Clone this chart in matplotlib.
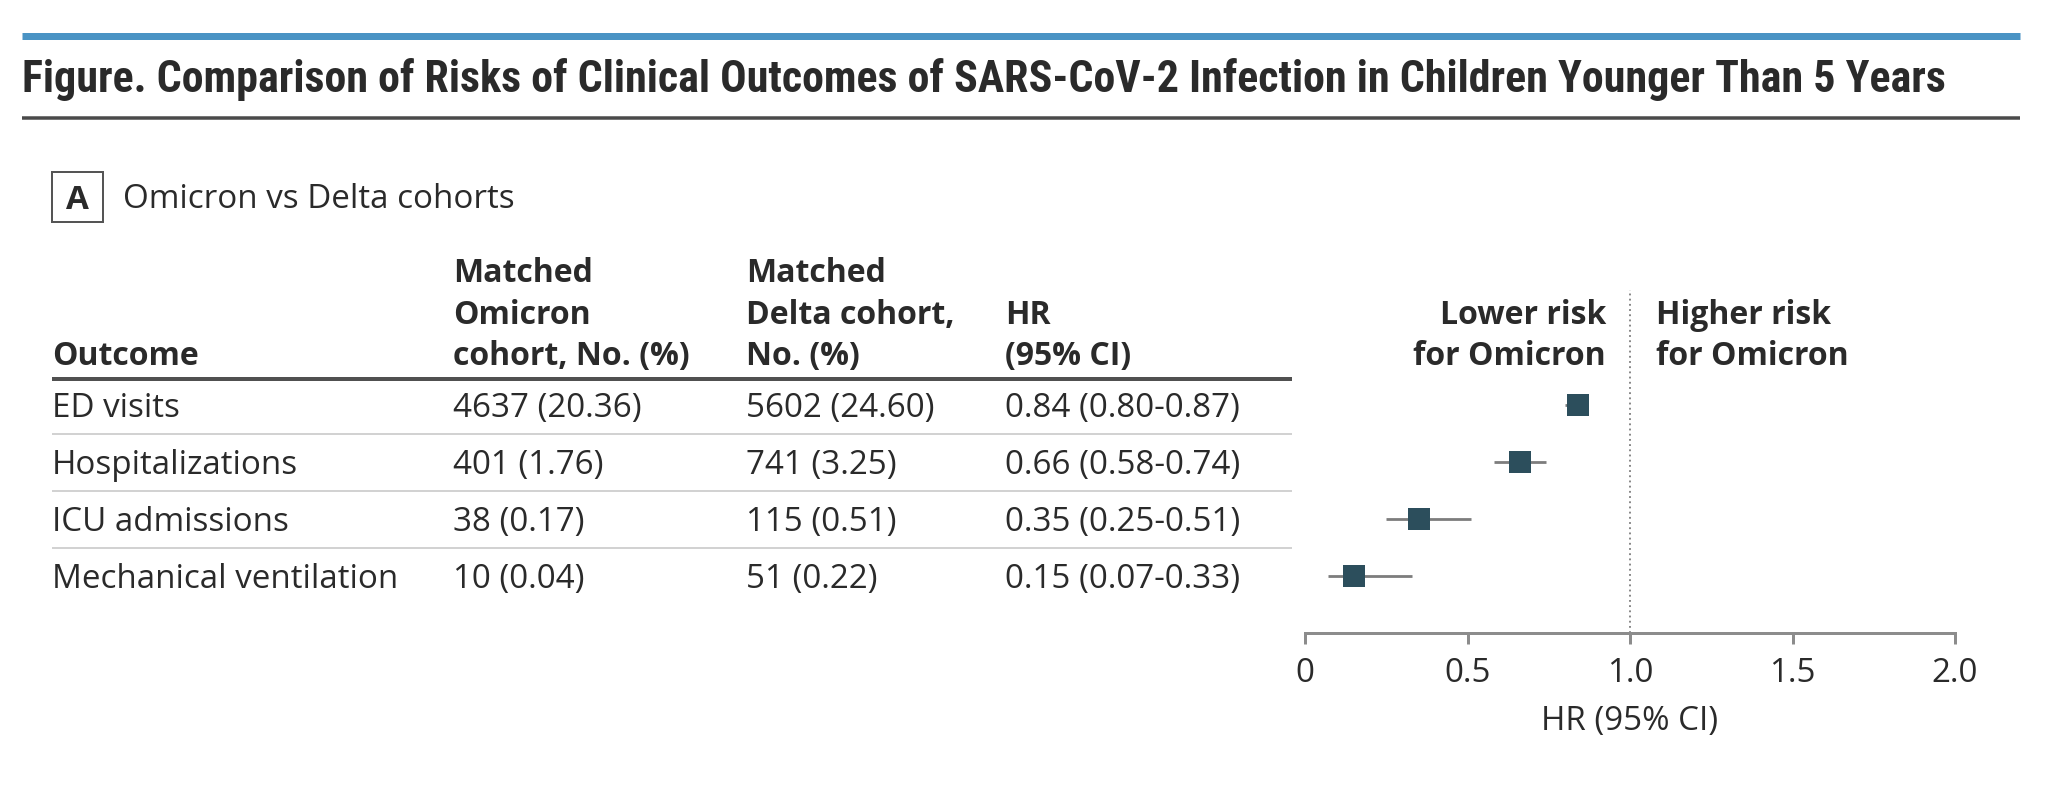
import matplotlib
matplotlib.use("Agg")
import matplotlib.pyplot as plt
from matplotlib.font_manager import FontProperties, findfont
from matplotlib.patches import Rectangle

# ---------------- data ----------------
outcomes = ["ED visits", "Hospitalizations", "ICU admissions", "Mechanical ventilation"]
omicron_n = [4637, 401, 38, 10]
omicron_pct = [20.36, 1.76, 0.17, 0.04]
delta_n = [5602, 741, 115, 51]
delta_pct = [24.60, 3.25, 0.51, 0.22]
hr = [0.84, 0.66, 0.35, 0.15]
hr_lo = [0.80, 0.58, 0.25, 0.07]
hr_hi = [0.87, 0.74, 0.51, 0.33]
xticks = [0, 0.5, 1.0, 1.5, 2.0]
xtick_labels = ["0", "0.5", "1.0", "1.5", "2.0"]

title = ("Figure. Comparison of Risks of Clinical Outcomes of SARS-CoV-2 "
         "Infection in Children Younger Than 5 Years")
panel_label = "A"
panel_title = "Omicron vs Delta cohorts"
header_outcome = ["", "", "Outcome"]
header_omicron = ["Matched", "Omicron", "cohort, No. (%)"]
header_delta = ["Matched", "Delta cohort,", "No. (%)"]
header_hr = ["", "HR", "(95% CI)"]
lower_text = ["Lower risk", "for Omicron"]
higher_text = ["Higher risk", "for Omicron"]
xlabel = "HR (95% CI)"

# ---------------- fonts ----------------
def available(fam, stretch="normal", must_contain=None):
    try:
        path = findfont(FontProperties(family=fam, stretch=stretch, weight="bold"),
                        fallback_to_default=False)
        if must_contain and must_contain.lower() not in path.lower():
            return False
        return True
    except Exception:
        return False

body_font = next((f for f in ["Open Sans", "Noto Sans", "DejaVu Sans"] if available(f)), "DejaVu Sans")

title_font, title_stretch = "Lato", "normal"
for fam, st, key in [("Liberation Sans Narrow", "normal", None),
                     ("Roboto Condensed", "normal", None),
                     ("Open Sans Condensed", "normal", None),
                     ("Roboto", "condensed", "condensed"),
                     ("Lato", "normal", None)]:
    if available(fam, st, key):
        title_font, title_stretch = fam, st
        break

W, H = 2048, 791
DPI = 100
fig = plt.figure(figsize=(W / DPI, H / DPI), dpi=DPI)
fig.patch.set_facecolor("white")
renderer = fig.canvas.get_renderer()

def fit_size(s, target_px, **kw):
    t = fig.text(0, 0, s, fontsize=20, **kw)
    w = t.get_window_extent(renderer).width
    t.remove()
    return 20.0 * target_px / w

body_size = fit_size("Mechanical ventilation", 346, family=body_font)
bold_size = body_size * 0.965
title_size = fit_size(title, 1920, family=title_font, weight="bold", stretch=title_stretch)
cap_px = 0.714 * body_size * DPI / 72.0

TXT = "#2a2a2a"

# overlay axes in pixel coordinates
ov = fig.add_axes([0, 0, 1, 1])
ov.set_xlim(0, W)
ov.set_ylim(H, 0)
ov.axis("off")

def px_lw(p):
    return p * 72.0 / DPI

# top blue bar & title
ov.plot([22, 2020], [35.5, 35.5], color="#4a93c4", lw=px_lw(7), solid_capstyle="butt")
ov.text(22, 92, title, family=title_font, weight="bold", stretch=title_stretch,
        fontsize=title_size, color="#2a2a2a", ha="left", va="baseline")
ov.plot([22, 2020], [118, 118], color="#4a4a4a", lw=px_lw(3.5), solid_capstyle="butt")

# panel label
ov.add_patch(Rectangle((52, 172), 51, 50, fill=False, edgecolor="#555555", lw=px_lw(2)))
ov.text(77.5, 197 + cap_px / 2, panel_label, family=body_font, weight="bold",
        fontsize=body_size, color=TXT, ha="center", va="baseline")
ov.text(123, 208, panel_title, family=body_font, fontsize=body_size, color=TXT,
        ha="left", va="baseline")

# table headers
col_x = [52, 453, 746, 1005]
head_base = [282, 324, 365]
for cx, lines in zip(col_x, [header_outcome, header_omicron, header_delta, header_hr]):
    for yb, s in zip(head_base, lines):
        if s:
            ov.text(cx, yb, s, family=body_font, weight="bold", fontsize=bold_size,
                    color=TXT, ha="left", va="baseline")

ov.plot([52, 1292], [379, 379], color="#505050", lw=px_lw(4), solid_capstyle="butt")

# rows
row0, row_step = 405, 57
for i in range(len(outcomes)):
    yc = row0 + row_step * i
    yb = yc + cap_px / 2
    cells = [outcomes[i],
             f"{omicron_n[i]} ({omicron_pct[i]:.2f})",
             f"{delta_n[i]} ({delta_pct[i]:.2f})",
             f"{hr[i]:.2f} ({hr_lo[i]:.2f}-{hr_hi[i]:.2f})"]
    for cx, s in zip(col_x, cells):
        ov.text(cx, yb, s, family=body_font, fontsize=body_size, color=TXT,
                ha="left", va="baseline")
    if i < len(outcomes) - 1:
        ys = yc + row_step / 2
        ov.plot([52, 1292], [ys, ys], color="#d2d2d2", lw=px_lw(2), solid_capstyle="butt")

# forest axes
x0_px, x2_px = 1305, 1955
top_px, bot_px = 290, 633
ax = fig.add_axes([x0_px / W, (H - bot_px) / H, (x2_px - x0_px) / W, (bot_px - top_px) / H])
ax.patch.set_alpha(0)
ax.set_xlim(0, 2)
ax.set_ylim((bot_px - row0) / row_step, (top_px - row0) / row_step)
for s in ["top", "left", "right"]:
    ax.spines[s].set_visible(False)
ax.spines["bottom"].set_color("#8c8c8c")
ax.spines["bottom"].set_linewidth(px_lw(3))
ax.set_yticks([])
ax.set_xticks(xticks)
ax.set_xticklabels(xtick_labels, family=body_font, fontsize=body_size, color=TXT)
ax.tick_params(axis="x", direction="out", length=px_lw(11), width=px_lw(3),
               color="#8c8c8c", pad=px_lw(13))

ax.axvline(1.0, ymin=0, ymax=1, color="#666666", lw=1.1, linestyle=(0, (1.2, 2.2)))
ypos = list(range(len(outcomes)))
ax.hlines(ypos, hr_lo, hr_hi, color="#7d7d7d", lw=px_lw(2.8), clip_on=False)
ax.plot(hr, ypos, linestyle="none", marker="s", markersize=px_lw(23),
        markerfacecolor="#2c4e5c", markeredgewidth=0, clip_on=False)

# direction labels
for yb, s in zip(head_base[1:], lower_text):
    ov.text(1606, yb, s, family=body_font, weight="bold", fontsize=bold_size,
            color=TXT, ha="right", va="baseline")
for yb, s in zip(head_base[1:], higher_text):
    ov.text(1656, yb, s, family=body_font, weight="bold", fontsize=bold_size,
            color=TXT, ha="left", va="baseline")

ov.text((x0_px + x2_px) / 2, 730, xlabel, family=body_font, fontsize=body_size,
        color=TXT, ha="center", va="baseline")

fig.savefig("out.png", dpi=DPI, facecolor="white")
